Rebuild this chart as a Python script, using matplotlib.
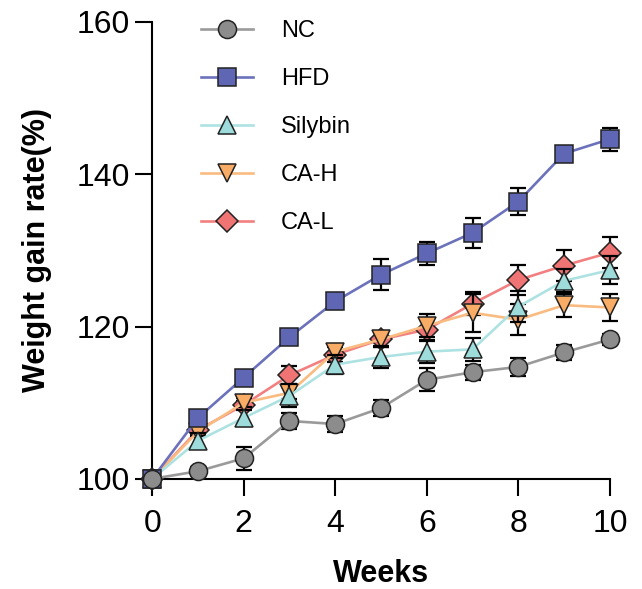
import matplotlib
matplotlib.use("Agg")
import matplotlib.pyplot as plt

plt.rcParams['font.family'] = ['Liberation Sans', 'DejaVu Sans']

weeks = [0, 1, 2, 3, 4, 5, 6, 7, 8, 9, 10]

nc = [100, 101.0, 102.7, 107.6, 107.2, 109.3, 113.0, 114.0, 114.7, 116.6, 118.3]
nc_err = [0, 0.5, 1.5, 1.0, 1.0, 1.0, 1.5, 1.0, 1.2, 1.0, 0.7]

hfd = [100, 108.0, 113.3, 118.6, 123.3, 126.8, 129.6, 132.3, 136.4, 142.7, 144.6]
hfd_err = [0, 0.8, 0.8, 0.8, 1.0, 2.0, 1.5, 2.0, 1.8, 0.5, 1.5]

silybin = [100, 105.0, 108.0, 110.9, 115.0, 116.0, 116.7, 117.0, 122.6, 126.0, 127.4]
silybin_err = [0, 1.0, 1.0, 1.5, 1.2, 1.5, 1.5, 1.5, 2.0, 1.5, 1.8]

ca_h = [100, 106.2, 110.0, 111.3, 116.7, 118.3, 120.1, 121.8, 120.9, 122.8, 122.5]
ca_h_err = [0, 0.6, 0.6, 0.8, 0.8, 1.0, 1.5, 2.5, 2.0, 1.5, 1.8]

ca_l = [100, 106.4, 109.7, 113.6, 116.3, 118.3, 119.6, 123.0, 126.1, 128.0, 129.7]
ca_l_err = [0, 0.5, 0.5, 1.2, 1.0, 1.0, 1.5, 1.5, 2.0, 2.0, 2.0]

# name, values, errors, marker, face colour, line colour
series = [
    ("NC", nc, nc_err, "o", "#8c8c8c", "#9a9a9a"),
    ("HFD", hfd, hfd_err, "s", "#5f66b3", "#6b72bb"),
    ("Silybin", silybin, silybin_err, "^", "#9edbdb", "#aee2e2"),
    ("CA-H", ca_h, ca_h_err, "v", "#f8ac66", "#f9bb80"),
    ("CA-L", ca_l, ca_l_err, "D", "#f07474", "#f28080"),
]

fig = plt.figure(figsize=(6.42, 5.89), dpi=100)
ax = fig.add_axes([0.237, 0.187, 0.713, 0.776])

handles = []
n = len(series)
for i, (name, vals, err, mk, face, line) in enumerate(series):
    z = 10 + (n - i) * 2
    ax.errorbar(weeks, vals, yerr=err, fmt='none', ecolor='black',
                elinewidth=1.6, capsize=6, capthick=1.6, zorder=z, clip_on=False)
    ms = 11 if mk == "D" else 13
    h, = ax.plot(weeks, vals, color=line, lw=1.9, marker=mk, markersize=ms,
                 markerfacecolor=face, markeredgecolor='#222222', markeredgewidth=1.1,
                 zorder=z + 1, clip_on=False, label=name)
    handles.append(h)

ax.set_xlim(0, 10)
ax.set_ylim(100, 160)
ax.set_xticks([0, 2, 4, 6, 8, 10])
ax.set_yticks([100, 120, 140, 160])
ax.tick_params(axis='both', labelsize=23, width=1.5, length=12, direction='out')
ax.tick_params(axis='x', pad=10)
ax.tick_params(axis='y', pad=4)
for s in ['top', 'right']:
    ax.spines[s].set_visible(False)
for s in ['left', 'bottom']:
    ax.spines[s].set_linewidth(1.5)

ax.set_xlabel("Weeks", fontsize=22, fontweight='bold', labelpad=14)
ax.set_ylabel("Weight gain rate(%)", fontsize=22, fontweight='bold', labelpad=18)

leg = ax.legend(handles=handles, loc='upper left', bbox_to_anchor=(0.06, 1.05),
                frameon=False, fontsize=17, handlelength=2.2, labelspacing=1.1,
                handletextpad=1.2)

fig.savefig("out.png", dpi=100)
